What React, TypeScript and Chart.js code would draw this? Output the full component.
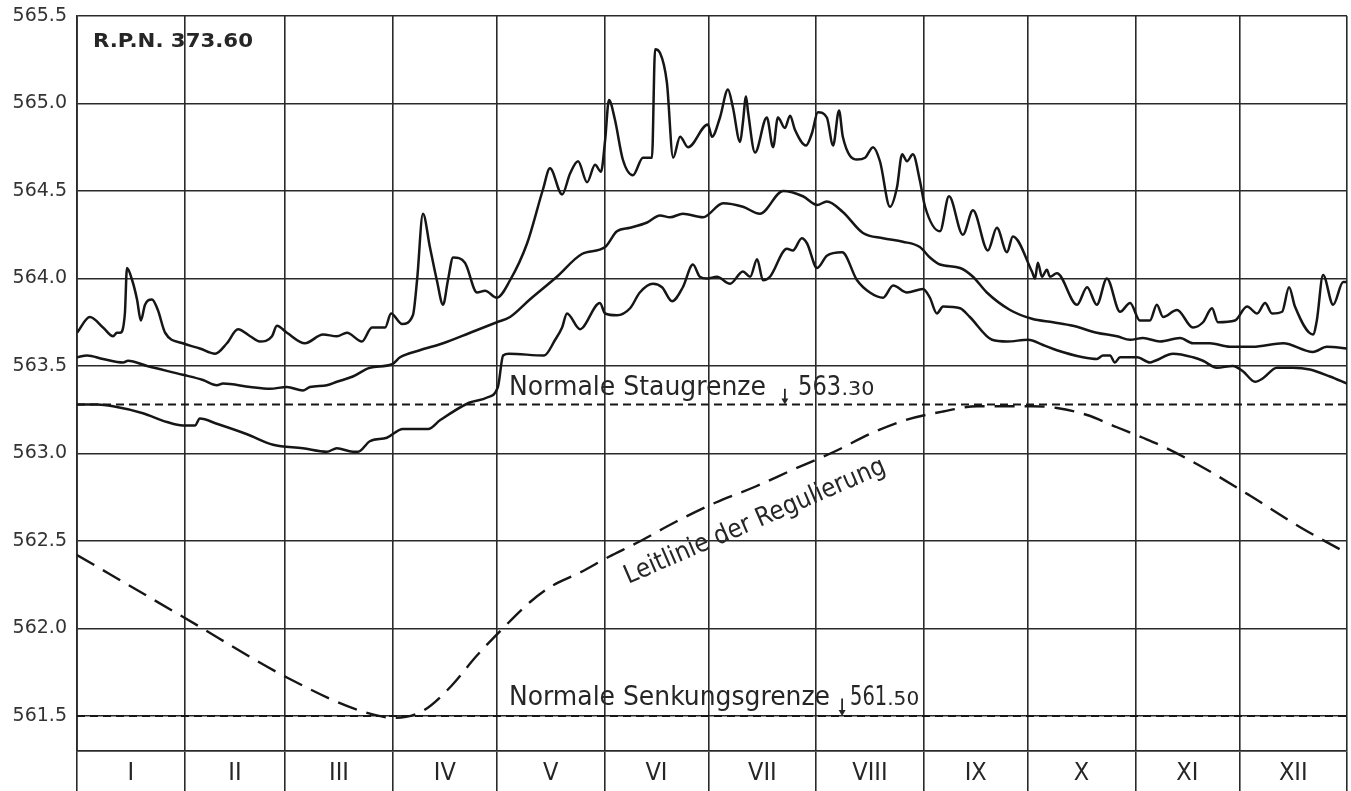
import React, { useEffect, useRef } from 'react';
import { Chart, registerables } from 'chart.js';

Chart.register(...registerables);

// ---- Axis definitions (leap year, days since 1 Jan) ----
const monthNames = ['I', 'II', 'III', 'IV', 'V', 'VI', 'VII', 'VIII', 'IX', 'X', 'XI', 'XII'];
const monthStarts = [0, 31, 60, 91, 121, 152, 182, 213, 244, 274, 305, 335, 366];
const levelTicks = [561.5, 562.0, 562.5, 563.0, 563.5, 564.0, 564.5, 565.0, 565.5];

// ---- Reference levels ----
const staugrenzeLevel = 563.28; // "Normale Staugrenze 563.30"
const senkungsgrenzeLevel = 561.5; // "Normale Senkungsgrenze 561.50"

// ---- Highest water levels ----
const maxDays = [0, 3.7, 7.5, 10.4, 11.5, 12.4, 13.8, 14.4, 15.9, 17.3, 18.4, 19.6, 21.6, 23.3, 25.4, 30.5, 35.4, 39.8, 43.2, 46.4, 49.9, 52.7, 56.2, 57.6, 60.5, 65.7, 70.9, 74.9, 77.8, 82.1, 85.0, 88.8, 90.5, 93.7, 96.8, 98.0, 99.7, 101.7, 103.7, 105.5, 106.9, 108.4, 111.8, 115.3, 117.6, 121.0, 124.8, 129.7, 134.3, 136.3, 139.8, 142.1, 144.4, 147.0, 149.3, 151.0, 152.2, 153.3, 155.0, 157.3, 160.2, 163.1, 165.7, 166.6, 168.0, 170.0, 171.8, 173.8, 176.1, 181.8, 183.0, 185.3, 187.6, 189.0, 191.1, 191.9, 192.8, 193.4, 195.4, 198.8, 200.6, 202.0, 204.0, 205.5, 206.9, 210.1, 211.8, 213.5, 216.1, 217.9, 219.6, 220.7, 224.8, 227.1, 229.4, 231.4, 234.3, 236.3, 237.8, 239.2, 240.9, 242.9, 244.4, 248.7, 251.3, 255.3, 258.2, 262.5, 265.1, 268.0, 269.7, 275.2, 276.1, 276.9, 278.1, 279.5, 280.4, 282.4, 288.2, 291.1, 293.9, 296.8, 300.6, 303.5, 306.3, 309.2, 311.2, 313.0, 317.0, 321.6, 324.5, 327.1, 328.8, 333.7, 337.2, 340.1, 342.4, 344.4, 347.3, 349.3, 351.0, 356.2, 357.3, 359.1, 362.0, 364.9, 366];
const maxLevels = [563.69, 563.78, 563.72, 563.67, 563.69, 563.69, 563.80, 564.06, 563.99, 563.88, 563.76, 563.85, 563.88, 563.82, 563.69, 563.63, 563.60, 563.57, 563.63, 563.71, 563.67, 563.64, 563.67, 563.73, 563.69, 563.63, 563.68, 563.67, 563.69, 563.64, 563.72, 563.72, 563.80, 563.74, 563.79, 563.99, 564.37, 564.18, 563.99, 563.85, 563.99, 564.12, 564.09, 563.92, 563.93, 563.89, 563.99, 564.20, 564.51, 564.63, 564.48, 564.60, 564.67, 564.55, 564.65, 564.61, 564.79, 565.02, 564.91, 564.68, 564.59, 564.69, 564.69, 565.31, 565.29, 565.12, 564.69, 564.81, 564.75, 564.88, 564.81, 564.92, 565.08, 564.98, 564.78, 564.89, 565.04, 564.95, 564.72, 564.92, 564.75, 564.92, 564.86, 564.93, 564.85, 564.76, 564.83, 564.95, 564.92, 564.76, 564.96, 564.81, 564.68, 564.69, 564.75, 564.67, 564.41, 564.52, 564.71, 564.67, 564.71, 564.56, 564.41, 564.27, 564.47, 564.25, 564.39, 564.16, 564.29, 564.15, 564.24, 564.04, 564.00, 564.09, 564.01, 564.05, 564.01, 564.03, 563.85, 563.95, 563.85, 564.00, 563.81, 563.86, 563.76, 563.76, 563.85, 563.78, 563.82, 563.72, 563.75, 563.83, 563.75, 563.76, 563.84, 563.80, 563.86, 563.80, 563.81, 563.95, 563.84, 563.68, 563.76, 564.02, 563.85, 563.98, 563.98];

// ---- Mean water levels ----
const meanDays = [0, 2.9, 7.5, 13.3, 14.7, 20.2, 30.5, 36.3, 40.3, 42.1, 49.9, 55.6, 60.5, 65.1, 67.1, 72.0, 74.9, 79.5, 84.4, 90.8, 93.1, 98.8, 105.5, 113.3, 121.0, 124.8, 130.5, 138.3, 145.5, 152.2, 155.6, 159.4, 164.3, 168.0, 170.9, 174.6, 180.4, 186.2, 191.9, 196.8, 203.5, 209.2, 213.3, 216.1, 220.7, 226.5, 232.3, 238.0, 242.9, 245.8, 248.7, 254.5, 258.2, 262.2, 268.9, 275.2, 281.3, 287.0, 293.9, 299.7, 303.5, 307.2, 312.1, 317.9, 321.6, 326.5, 332.3, 338.9, 347.6, 356.2, 360.2, 366];
const meanLevels = [563.55, 563.56, 563.54, 563.52, 563.53, 563.50, 563.45, 563.42, 563.39, 563.40, 563.38, 563.37, 563.38, 563.36, 563.38, 563.39, 563.41, 563.44, 563.49, 563.51, 563.55, 563.59, 563.63, 563.69, 563.75, 563.78, 563.88, 564.01, 564.14, 564.18, 564.27, 564.29, 564.32, 564.36, 564.35, 564.37, 564.35, 564.43, 564.41, 564.37, 564.50, 564.47, 564.42, 564.44, 564.38, 564.26, 564.23, 564.21, 564.18, 564.12, 564.08, 564.06, 564.01, 563.92, 563.82, 563.77, 563.75, 563.73, 563.69, 563.67, 563.65, 563.66, 563.64, 563.66, 563.63, 563.63, 563.61, 563.61, 563.63, 563.58, 563.61, 563.60];

// ---- Lowest water levels ----
const minDays = [0, 5.8, 10.4, 19.0, 25.9, 30.5, 34.0, 35.4, 40.3, 49.0, 56.5, 65.1, 72.0, 74.9, 79.5, 81.0, 84.4, 89.3, 93.9, 101.2, 104.6, 113.0, 118.2, 121.3, 122.8, 124.5, 134.6, 137.8, 139.8, 141.2, 145.0, 145.8, 150.7, 152.2, 155.6, 159.4, 162.2, 166.0, 168.6, 171.5, 174.6, 177.5, 179.5, 181.6, 184.4, 188.2, 191.9, 194.0, 196.0, 197.7, 199.7, 204.6, 206.3, 208.9, 210.4, 213.3, 216.1, 220.5, 224.8, 228.5, 232.3, 235.2, 239.2, 243.8, 245.8, 247.8, 249.6, 254.5, 257.3, 263.7, 268.0, 274.1, 278.4, 282.4, 289.9, 293.9, 295.7, 297.7, 299.1, 300.6, 305.5, 309.2, 310.7, 315.9, 321.6, 324.5, 328.5, 333.1, 336.0, 339.5, 341.8, 345.8, 350.4, 355.3, 361.1, 366];
const minLevels = [563.28, 563.28, 563.27, 563.23, 563.18, 563.16, 563.16, 563.20, 563.17, 563.11, 563.05, 563.03, 563.01, 563.03, 563.01, 563.01, 563.07, 563.09, 563.14, 563.14, 563.19, 563.29, 563.32, 563.38, 563.56, 563.57, 563.56, 563.65, 563.72, 563.80, 563.71, 563.72, 563.86, 563.80, 563.79, 563.83, 563.92, 563.97, 563.95, 563.87, 563.95, 564.08, 564.01, 564.00, 564.01, 563.97, 564.04, 564.01, 564.11, 563.99, 564.01, 564.17, 564.16, 564.23, 564.20, 564.06, 564.13, 564.15, 563.99, 563.92, 563.89, 563.96, 563.92, 563.94, 563.89, 563.80, 563.84, 563.83, 563.78, 563.65, 563.64, 563.65, 563.62, 563.59, 563.55, 563.54, 563.56, 563.56, 563.52, 563.55, 563.55, 563.52, 563.53, 563.57, 563.55, 563.53, 563.49, 563.50, 563.47, 563.41, 563.43, 563.49, 563.49, 563.48, 563.44, 563.40];

// ---- Leitlinie der Regulierung ----
const guideDays = [0, 31.1, 60.5, 81.6, 91.4, 99.7, 107.8, 115.0, 122.2, 130.5, 136.6, 145.0, 153.3, 161.4, 172.6, 184.1, 195.4, 206.6, 218.2, 229.4, 238.6, 249.6, 259.4, 268.9, 275.2, 282.4, 291.1, 299.7, 307.2, 313.0, 323.6, 338.0, 352.4, 366];
const guideLevels = [562.42, 562.06, 561.72, 561.53, 561.49, 561.53, 561.67, 561.84, 561.99, 562.15, 562.24, 562.32, 562.41, 562.49, 562.61, 562.72, 562.81, 562.91, 563.01, 563.12, 563.19, 563.24, 563.27, 563.27, 563.27, 563.26, 563.22, 563.15, 563.09, 563.04, 562.93, 562.76, 562.58, 562.43];

const INK = '#161616';
const GRID = '#2a2a2a';
const TEXT = '#262626';
const COND = '"DejaVu Sans Condensed", "Liberation Sans Narrow", "DejaVu Sans", sans-serif';

const pairs = (xs: number[], ys: number[]) => xs.map((x, i) => ({ x, y: ys[i] }));

function fitText(
  ctx: CanvasRenderingContext2D,
  text: string,
  x: number,
  y: number,
  width: number,
  font: string,
  baseline: CanvasTextBaseline = 'alphabetic',
  angle = 0,
  center = false
) {
  ctx.save();
  ctx.font = font;
  ctx.fillStyle = TEXT;
  ctx.textAlign = 'left';
  ctx.textBaseline = baseline;
  const w = ctx.measureText(text).width || 1;
  ctx.translate(x, y);
  if (angle) ctx.rotate(angle);
  ctx.scale(width / w, 1);
  ctx.fillText(text, center ? -w / 2 : 0, 0);
  ctx.restore();
}

function arrow(ctx: CanvasRenderingContext2D, x: number, y1: number, y2: number) {
  ctx.save();
  ctx.strokeStyle = TEXT;
  ctx.fillStyle = TEXT;
  ctx.lineWidth = 1.8;
  ctx.beginPath();
  ctx.moveTo(x, y1);
  ctx.lineTo(x, y2 - 3);
  ctx.stroke();
  ctx.beginPath();
  ctx.moveTo(x - 3.5, y2 - 6);
  ctx.lineTo(x + 3.5, y2 - 6);
  ctx.lineTo(x, y2);
  ctx.closePath();
  ctx.fill();
  ctx.restore();
}

const annotationPlugin = {
  id: 'annotations',
  afterDatasetsDraw(chart: any) {
    const { ctx, chartArea, scales } = chart;
    const xs = scales.x;
    const ys = scales.y;
    const X = (d: number) => xs.getPixelForValue(d);
    const Y = (v: number) => ys.getPixelForValue(v);

    // Month labels in the boxes under the plot
    ctx.save();
    ctx.font = `25px ${COND}`;
    ctx.fillStyle = TEXT;
    ctx.textAlign = 'center';
    ctx.textBaseline = 'middle';
    for (let i = 0; i < monthNames.length; i++) {
      const mid = (monthStarts[i] + monthStarts[i + 1]) / 2;
      ctx.fillText(monthNames[i], X(mid), chartArea.bottom + 22);
    }
    ctx.restore();

    // Title
    fitText(ctx, 'R.P.N. 373.60', X(4.6), Y(565.35), 160, `bold 20px "DejaVu Sans", sans-serif`, 'middle');

    // Normale Staugrenze
    const stauBase = Y(563.335);
    fitText(ctx, 'Normale Staugrenze', X(124.5), stauBase, 257, `26px ${COND}`);
    arrow(ctx, X(204), Y(563.37), Y(staugrenzeLevel));
    fitText(ctx, '563', X(207.8), stauBase, 43, `26px ${COND}`);
    fitText(ctx, '.30', X(220.3), stauBase, 33, `19px ${COND}`);

    // Normale Senkungsgrenze
    const senkBase = Y(561.563);
    fitText(ctx, 'Normale Senkungsgrenze', X(124.5), senkBase, 321, `26px ${COND}`);
    arrow(ctx, X(220.5), Y(561.6), Y(senkungsgrenzeLevel));
    fitText(ctx, '561', X(222.8), senkBase, 37, `26px ${COND}`);
    fitText(ctx, '.50', X(233.5), senkBase, 32, `19px ${COND}`);

    // Leitlinie der Regulierung (rotated along the guide curve)
    fitText(
      ctx,
      'Leitlinie der Regulierung',
      X(195.4),
      Y(562.61),
      282,
      `26px ${COND}`,
      'middle',
      (-23.4 * Math.PI) / 180,
      true
    );
  },
};

export default function App() {
  const ref = useRef<HTMLCanvasElement>(null);

  useEffect(() => {
    if (!ref.current) return;
    const lineDs = (data: any[], extra: any = {}) => ({
      data,
      borderColor: INK,
      borderWidth: 2.5,
      pointRadius: 0,
      fill: false,
      cubicInterpolationMode: 'monotone',
      ...extra,
    });

    const chart = new Chart(ref.current, {
      type: 'line',
      data: {
        datasets: [
          lineDs(pairs(maxDays, maxLevels)),
          lineDs(pairs(meanDays, meanLevels)),
          lineDs(pairs(minDays, minLevels)),
          lineDs(pairs(guideDays, guideLevels), { borderDash: [20, 10], borderWidth: 2.4 }),
          lineDs([{ x: 0, y: staugrenzeLevel }, { x: 366, y: staugrenzeLevel }], {
            borderDash: [8, 5],
            borderWidth: 1.8,
          }),
          lineDs([{ x: 0, y: senkungsgrenzeLevel }, { x: 366, y: senkungsgrenzeLevel }], {
            borderDash: [8, 5],
            borderWidth: 1.8,
          }),
        ],
      },
      options: {
        animation: false,
        responsive: true,
        maintainAspectRatio: false,
        layout: { padding: { top: 16, right: 4, left: 0, bottom: 0 } },
        plugins: { legend: { display: false }, tooltip: { enabled: false } },
        scales: {
          x: {
            type: 'linear',
            min: 0,
            max: 366,
            afterBuildTicks: (s: any) => {
              s.ticks = monthStarts.map((v) => ({ value: v }));
            },
            afterFit: (s: any) => {
              s.height = 40;
              s.paddingLeft = 0;
              s.paddingRight = 0;
            },
            grid: { color: GRID, lineWidth: 1.6, tickLength: 40, drawTicks: true },
            border: { display: true, color: GRID, width: 1.8 },
            ticks: { display: false },
          },
          y: {
            type: 'linear',
            min: 561.3,
            max: 565.5,
            afterBuildTicks: (s: any) => {
              s.ticks = levelTicks.map((v) => ({ value: v }));
            },
            afterFit: (s: any) => {
              s.width = 77;
              s.paddingTop = 0;
              s.paddingBottom = 0;
            },
            grid: { color: GRID, lineWidth: 1.6, drawTicks: false },
            border: { display: true, color: GRID, width: 1.8 },
            ticks: {
              padding: 10,
              color: '#333',
              font: { family: '"DejaVu Sans", sans-serif', size: 19 },
              callback: (v: any) => Number(v).toFixed(1),
            },
          },
        },
      } as any,
      plugins: [annotationPlugin],
    });
    return () => chart.destroy();
  }, []);

  return (
    <div style={{ position: 'fixed', left: 0, top: 0, width: 1351, height: 791, background: '#fff' }}>
      <canvas ref={ref} />
    </div>
  );
}
